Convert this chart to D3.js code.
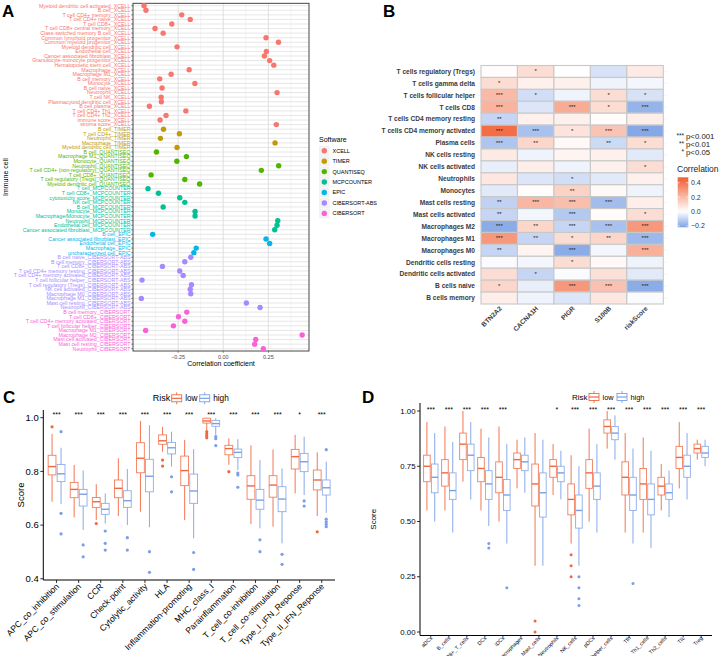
<!DOCTYPE html>
<html><head><meta charset="utf-8">
<script src="https://cdn.jsdelivr.net/npm/d3@7"></script>
<style>body{margin:0;background:#fff;} svg{display:block;font-family:"Liberation Sans",Arial,sans-serif;}</style>
</head><body>
<svg id="chart" width="719" height="656"></svg>
<script>
// ---------------- Panel A data ----------------
const aSoftwareLevels = ["XCELL","TIMER","QUANTISEQ","MCPCOUNTER","EPIC","CIBERSORT-ABS","CIBERSORT"];
const aSoftwareColors = ["#F8766D","#C49A00","#53B400","#00C094","#00B6EB","#A58AFF","#FB61D7"];
const aCells = [
"Myeloid dendritic cell activated_XCELL","B cell_XCELL","T cell CD4+ memory_XCELL","T cell CD4+ naive_XCELL","T cell CD8+_XCELL",
"T cell CD8+ central memory_XCELL","Class-switched memory B cell_XCELL","Common lymphoid progenitor_XCELL","Common myeloid progenitor_XCELL",
"Myeloid dendritic cell_XCELL","Endothelial cell_XCELL","Cancer associated fibroblast_XCELL","Granulocyte-monocyte progenitor_XCELL",
"Hematopoietic stem cell_XCELL","Macrophage_XCELL","Macrophage M1_XCELL","B cell memory_XCELL","Monocyte_XCELL","B cell naive_XCELL",
"Neutrophil_XCELL","T cell NK_XCELL","Plasmacytoid dendritic cell_XCELL","B cell plasma_XCELL","T cell CD4+ Th1_XCELL","T cell CD4+ Th2_XCELL",
"immune score_XCELL","stroma score_XCELL",
"B cell_TIMER","T cell CD4+_TIMER","Neutrophil_TIMER","Macrophage_TIMER","Myeloid dendritic cell_TIMER",
"B cell_QUANTISEQ","Macrophage M1_QUANTISEQ","Monocyte_QUANTISEQ","Neutrophil_QUANTISEQ","T cell CD4+ (non-regulatory)_QUANTISEQ",
"T cell CD8+_QUANTISEQ","T cell regulatory (Tregs)_QUANTISEQ","Myeloid dendritic cell_QUANTISEQ",
"T cell_MCPCOUNTER","T cell CD8+_MCPCOUNTER","cytotoxicity score_MCPCOUNTER","NK cell_MCPCOUNTER","B cell_MCPCOUNTER","Monocyte_MCPCOUNTER",
"Macrophage/Monocyte_MCPCOUNTER","Neutrophil_MCPCOUNTER","Endothelial cell_MCPCOUNTER","Cancer associated fibroblast_MCPCOUNTER",
"B cell_EPIC","Cancer associated fibroblast_EPIC","Endothelial cell_EPIC","Macrophage_EPIC","uncharacterized cell_EPIC",
"B cell naive_CIBERSORT-ABS","B cell memory_CIBERSORT-ABS","T cell CD8+_CIBERSORT-ABS","T cell CD4+ memory resting_CIBERSORT-ABS",
"T cell CD4+ memory activated_CIBERSORT-ABS","T cell follicular helper_CIBERSORT-ABS","T cell regulatory (Tregs)_CIBERSORT-ABS",
"NK cell activated_CIBERSORT-ABS","Macrophage M0_CIBERSORT-ABS","Macrophage M1_CIBERSORT-ABS","Mast cell resting_CIBERSORT-ABS","Neutrophil_CIBERSORT-ABS",
"B cell memory_CIBERSORT","T cell CD8+_CIBERSORT","T cell CD4+ memory activated_CIBERSORT","T cell follicular helper_CIBERSORT",
"Macrophage M1_CIBERSORT","Macrophage M2_CIBERSORT","Mast cell activated_CIBERSORT","Mast cell resting_CIBERSORT","Neutrophil_CIBERSORT"];
const aValues = [
-0.439,-0.428,-0.230,-0.183,-0.285,-0.378,-0.333,0.237,0.306,-0.256,0.239,0.228,0.257,0.280,-0.189,-0.289,-0.352,-0.157,-0.339,0.298,
-0.344,-0.343,-0.409,-0.207,-0.317,-0.350,0.294,
-0.331,-0.243,-0.348,0.287,-0.256,
-0.370,-0.204,-0.257,0.307,0.211,-0.400,-0.213,-0.131,
-0.417,-0.359,-0.241,-0.213,-0.333,-0.156,-0.156,0.302,0.298,0.285,
-0.391,0.237,0.257,-0.150,-0.163,
-0.180,-0.213,-0.337,-0.241,-0.222,-0.450,-0.176,-0.183,-0.180,-0.454,0.128,0.204,
-0.202,-0.248,-0.213,-0.276,-0.430,0.437,0.180,0.174,0.222];
const aTicks = [-0.25, 0, 0.25];

// ---------------- Panel B data ----------------
const bRows = ["T cells regulatory (Tregs)","T cells gamma delta","T cells follicular helper","T cells CD8","T cells CD4 memory resting",
"T cells CD4 memory activated","Plasma cells","NK cells resting","NK cells activated","Neutrophils","Monocytes","Mast cells resting",
"Mast cells activated","Macrophages M2","Macrophages M1","Macrophages M0","Dendritic cells resting","Dendritic cells activated",
"B cells naive","B cells memory"];
const bGenes = ["BTN2A2","CACNA1H","PIGR","S100B","riskScore"];
const bCorr = [
[0.01,0.10,0.00,-0.07,0.06],[0.10,0.04,0.04,-0.03,-0.02],[0.20,-0.08,-0.03,0.10,-0.07],[0.22,-0.06,0.24,0.10,-0.18],
[-0.10,0.04,0.04,0.01,0.05],[0.42,-0.15,0.08,0.17,-0.21],[-0.14,0.12,0.02,-0.09,0.10],[0.06,-0.03,0.03,0.04,-0.05],
[-0.04,0.05,-0.03,0.04,0.10],[0.07,-0.06,-0.08,-0.05,0.04],[-0.05,0.01,0.13,0.02,-0.03],[-0.11,0.21,0.19,-0.16,0.05],
[-0.10,-0.02,-0.13,0.01,0.10],[-0.20,0.12,-0.10,-0.15,0.30],[0.30,-0.10,0.10,0.12,-0.17],[-0.10,0.03,-0.20,-0.02,0.23],
[-0.01,-0.02,0.10,0.02,-0.03],[0.10,-0.10,-0.01,0.09,-0.05],[0.12,-0.04,0.30,0.18,-0.20],[0.05,-0.03,-0.06,0.07,-0.01]];
const bStars = [
["","*","","",""],["*","","","",""],["***","*","","*","*"],["***","","***","*","***"],["**","","","",""],
["***","***","*","***","***"],["***","**","","**","*"],["","","","",""],["","","","","*"],["","","*","",""],
["","","**","",""],["**","***","***","***",""],["**","","***","","*"],["***","**","***","***","***"],["***","**","*","**","***"],
["**","","***","","***"],["","","*","",""],["","*","","",""],["*","","***","***","***"],["","","","",""]];
const bLegendTicks = [0.4, 0.2, 0.0, -0.2];
const bSigMarks = ["***","**","*"];
const bSigTexts = ["p<0.001","p<0.01","p<0.05"];

// ---------------- Panel C data ----------------
const cCats = ["APC_co_inhibition","APC_co_stimulation","CCR","Check-point","Cytolytic_activity","HLA","Inflammation-promoting",
"MHC_class_I","Parainflammation","T_cell_co-inhibition","T_cell_co-stimulation","Type_I_IFN_Reponse","Type_II_IFN_Reponse"];
const cLow = [[0.687,0.787,0.818,0.860,0.939],[0.629,0.702,0.733,0.759,0.824],[0.619,0.666,0.687,0.703,0.752],[0.634,0.702,0.737,0.768,0.849],
[0.650,0.795,0.849,0.907,0.988],[0.873,0.901,0.914,0.936,0.966],[0.619,0.747,0.803,0.857,0.917],[0.954,0.980,0.988,0.998,1.0],
[0.825,0.862,0.885,0.897,0.923],[0.604,0.696,0.746,0.784,0.897],[0.594,0.704,0.749,0.784,0.882],[0.718,0.809,0.855,0.882,0.936],
[0.634,0.731,0.768,0.805,0.871]];
const cHigh = [[0.679,0.762,0.791,0.826,0.888],[0.582,0.671,0.715,0.733,0.803],[0.606,0.640,0.659,0.681,0.718],[0.600,0.666,0.691,0.728,0.809],
[0.592,0.724,0.782,0.845,0.972],[0.818,0.865,0.888,0.908,0.948],[0.551,0.681,0.727,0.790,0.883],[0.936,0.968,0.978,0.990,0.998],
[0.805,0.852,0.871,0.883,0.920],[0.588,0.659,0.693,0.733,0.842],[0.532,0.650,0.697,0.743,0.811],[0.712,0.799,0.836,0.867,0.929],
[0.646,0.712,0.739,0.768,0.836]];
const cLowOut = [[0.966],[],[0.606],[],[],[0.842,0.820],[],[0.948,0.940,0.932,0.925],[0.799],[],[],[],[0.575]];
const cHighOut = [[0.948,0.644,0.567],[0.526,0.482],[0.578,0.532,0.507],[0.553,0.507],[0.501,0.424],[0.780,0.724],[0.498,0.435],
[0.930,0.922,0.896],[0.794,0.787,0.741],[0.545,0.501],[0.491,0.454],[0.690,0.671],[0.881,0.622,0.612,0.603,0.594]];
const cSig = ["***","***","***","***","***","***","***","***","***","***","***","*","***"];
const cTicks = [0.4, 0.6, 0.8, 1.0];

// ---------------- Panel D data ----------------
const dCats = ["aDCs","B_cells","CD8+_T_cells","DCs","iDCs","Macrophages","Mast_cells","Neutrophils","NK_cells","pDCs",
"T_helper_cells","Tfh","Th1_cells","Th2_cells","TIL","Treg"];
const dLow = [[0.55,0.68,0.75,0.80,0.95],[0.55,0.66,0.72,0.78,0.93],[0.68,0.78,0.85,0.90,1.0],[0.55,0.68,0.74,0.79,0.92],
[0.50,0.63,0.70,0.77,0.93],[0.65,0.74,0.78,0.81,0.87],[0.30,0.57,0.67,0.76,0.90],[0.62,0.70,0.75,0.78,0.85],
[0.40,0.53,0.60,0.67,0.80],[0.50,0.65,0.72,0.78,0.92],[0.83,0.90,0.93,0.96,1.0],[0.45,0.62,0.70,0.77,0.90],
[0.45,0.60,0.67,0.74,0.88],[0.55,0.62,0.66,0.70,0.76],[0.65,0.74,0.79,0.84,0.95],[0.78,0.81,0.83,0.85,0.87]];
const dHigh = [[0.50,0.63,0.70,0.76,0.90],[0.45,0.60,0.64,0.72,0.86],[0.60,0.73,0.80,0.85,0.95],[0.48,0.60,0.67,0.73,0.88],
[0.40,0.55,0.62,0.69,0.85],[0.63,0.73,0.77,0.80,0.88],[0.30,0.52,0.63,0.72,0.87],[0.60,0.68,0.72,0.75,0.82],
[0.30,0.47,0.55,0.62,0.75],[0.45,0.60,0.66,0.72,0.85],[0.78,0.87,0.90,0.93,0.98],[0.40,0.55,0.62,0.70,0.83],
[0.38,0.53,0.60,0.67,0.82],[0.52,0.60,0.63,0.67,0.73],[0.60,0.70,0.75,0.80,0.90],[0.75,0.79,0.81,0.84,0.87]];
const dLowOut = [[],[],[],[],[],[],[0.05,0.0],[],[0.35,0.30,0.25],[],[],[],[],[],[],[]];
const dHighOut = [[],[],[],[0.40,0.38],[0.20],[],[],[],[0.25,0.20,0.15,0.12],[],[],[0.22],[],[],[],[]];
const dSig = ["***","***","***","***","***","","","*","***","***","***","***","***","***","***","***"];
const dTicks = [0, 0.25, 0.5, 0.75, 1.0];

const riskGroups = ["low","high"];
const riskColors = ["#F0683F","#7A9FE6"];

// ================= Drawing =================
const svg = d3.select("#chart");

[["A",2,17],["B",383,17],["C",3,403],["D",362,403]].forEach(([t,x,y])=>{
  svg.append("text").attr("x",x).attr("y",y).attr("font-size",17).attr("font-weight","bold").attr("fill","#000").text(t);
});

// ---------- Panel A ----------
(function(){
  const g = svg.append("g");
  const L=133,R=309,T=3.3,B=351;
  const x = d3.scaleLinear().domain([-0.5,0.475]).range([L,R]);
  const y = d3.scalePoint().domain(aCells).range([5.7,348.7]);
  const softOf = s => s.substring(s.lastIndexOf("_")+1);
  const col = d3.scaleOrdinal().domain(aSoftwareLevels).range(aSoftwareColors);
  g.append("rect").attr("x",L).attr("y",T).attr("width",R-L).attr("height",B-T).attr("fill","#fff");
  [-0.375,-0.125,0.125,0.375].forEach(v=>g.append("line").attr("x1",x(v)).attr("x2",x(v)).attr("y1",T).attr("y2",B).attr("stroke","#ededed").attr("stroke-width",0.6));
  aTicks.forEach(v=>g.append("line").attr("x1",x(v)).attr("x2",x(v)).attr("y1",T).attr("y2",B).attr("stroke","#dcdcdc").attr("stroke-width",0.9));
  aCells.forEach(c=>g.append("line").attr("x1",L).attr("x2",R).attr("y1",y(c)).attr("y2",y(c)).attr("stroke","#dcdcdc").attr("stroke-width",0.7));
  g.append("rect").attr("x",L).attr("y",T).attr("width",R-L).attr("height",B-T).attr("fill","none").attr("stroke","#333").attr("stroke-width",0.9);
  aCells.forEach(c=>{
    g.append("line").attr("x1",L-2).attr("x2",L).attr("y1",y(c)).attr("y2",y(c)).attr("stroke","#333").attr("stroke-width",0.5);
    g.append("text").attr("x",L-2.5).attr("y",y(c)).attr("dy","0.35em").attr("text-anchor","end").attr("font-size",5.3)
      .attr("fill",col(softOf(c))).text(c);
  });
  aTicks.forEach(v=>{
    g.append("line").attr("x1",x(v)).attr("x2",x(v)).attr("y1",B).attr("y2",B+2).attr("stroke","#333").attr("stroke-width",0.5);
    g.append("text").attr("x",x(v)).attr("y",B+7.5).attr("text-anchor","middle").attr("font-size",5.5).attr("fill","#4d4d4d").text(d3.format(".2f")(v));
  });
  g.append("text").attr("x",(L+R)/2).attr("y",366).attr("text-anchor","middle").attr("font-size",7).attr("fill","#000").text("Correlation coefficient");
  g.append("text").attr("transform",`translate(8,${(T+B)/2}) rotate(-90)`).attr("text-anchor","middle").attr("font-size",7).attr("fill","#000").text("Immune cell");
  g.selectAll("circle.pt").data(aCells).enter().append("circle").attr("class","pt")
    .attr("cx",(c,i)=>x(aValues[i])).attr("cy",c=>y(c)).attr("r",2.7).attr("fill",c=>col(softOf(c)));
  const lg = g.append("g");
  lg.append("text").attr("x",319).attr("y",141.5).attr("font-size",7).attr("fill","#000").text("Software");
  aSoftwareLevels.forEach((s,i)=>{
    const yy = 150.7 + i*10.45;
    lg.append("rect").attr("x",319).attr("y",yy-5).attr("width",10.5).attr("height",10).attr("fill","#f2f2f2");
    lg.append("circle").attr("cx",324.3).attr("cy",yy).attr("r",2.7).attr("fill",col(s));
    lg.append("text").attr("x",332.5).attr("y",yy).attr("dy","0.35em").attr("font-size",5.5).attr("fill","#000").text(s);
  });
})();

// ---------- Panel B ----------
(function(){
  const g = svg.append("g");
  const L=481,R=663.3,T=65.5,B=304;
  const x = d3.scaleBand().domain(bGenes).range([L,R]);
  const y = d3.scaleBand().domain(bRows).range([T,B]);
  const color = d3.scaleLinear().domain([-0.25,0,0.45]).range(["#6F97E2","#FFFFFF","#F2643A"]).clamp(true);
  bRows.forEach(r=>g.append("line").attr("x1",L-3).attr("x2",R+4).attr("y1",y(r)+y.bandwidth()/2).attr("y2",y(r)+y.bandwidth()/2).attr("stroke","#ececec").attr("stroke-width",0.6));
  bRows.forEach((r,i)=>{
    bGenes.forEach((gname,j)=>{
      g.append("rect").attr("x",x(gname)).attr("y",y(r)).attr("width",x.bandwidth()).attr("height",y.bandwidth())
        .attr("fill",color(bCorr[i][j])).attr("stroke","#c8c8c8").attr("stroke-width",1.1);
      if (bStars[i][j]) g.append("text").attr("x",x(gname)+x.bandwidth()/2).attr("y",y(r)+y.bandwidth()/2+1.8)
        .attr("text-anchor","middle").attr("font-size",6).attr("fill","#222").text(bStars[i][j]);
    });
    g.append("text").attr("x",L-6).attr("y",y(r)+y.bandwidth()/2).attr("dy","0.35em").attr("text-anchor","end")
      .attr("font-size",6.6).attr("font-weight","bold").attr("fill","#3a3a3a").text(r);
  });
  bGenes.forEach(gname=>{
    const cx = x(gname)+x.bandwidth()/2;
    g.append("text").attr("transform",`translate(${cx+3},${B+5}) rotate(-45)`).attr("text-anchor","end")
      .attr("font-size",6.6).attr("font-weight","bold").attr("fill","#3a3a3a").text(gname);
  });
  bSigMarks.forEach((m,i)=>{
    const yy = 136 + i*8.2;
    g.append("text").attr("x",684).attr("y",yy+1.5).attr("text-anchor","end").attr("font-size",6.5).attr("fill","#222").text(m);
    g.append("text").attr("x",686).attr("y",yy).attr("dy","0.35em").attr("font-size",7.8).attr("fill","#222").text(bSigTexts[i]);
  });
  g.append("text").attr("x",677).attr("y",172).attr("font-size",8.5).attr("fill","#222").text("Correlation");
  const ly = d3.scaleLinear().domain([-0.22,0.475]).range([227.3,177.3]);
  const defs = svg.append("defs");
  const grad = defs.append("linearGradient").attr("id","cbar").attr("x1","0").attr("x2","0").attr("y1","1").attr("y2","0");
  d3.range(0,1.0001,0.05).forEach(t=>{
    const v = -0.22 + t*(0.475+0.22);
    grad.append("stop").attr("offset",t).attr("stop-color",color(v));
  });
  g.append("rect").attr("x",677.7).attr("y",177.3).attr("width",10.6).attr("height",50).attr("fill","url(#cbar)");
  bLegendTicks.forEach(v=>{
    g.append("line").attr("x1",677.7).attr("x2",679.8).attr("y1",ly(v)).attr("y2",ly(v)).attr("stroke","#fff").attr("stroke-width",0.6);
    g.append("line").attr("x1",686.2).attr("x2",688.3).attr("y1",ly(v)).attr("y2",ly(v)).attr("stroke","#fff").attr("stroke-width",0.6);
    g.append("text").attr("x",691).attr("y",ly(v)).attr("dy","0.35em").attr("font-size",7).attr("fill","#333").text(v===0?"0.0":d3.format(".1f")(v).replace("-","\u2212"));
  });
})();

// ---------- Box plot helper ----------
function boxPanel(opt){
  const g = svg.append("g");
  const x = d3.scalePoint().domain(opt.cats).range([opt.L,opt.R]).padding(0.6);
  const y = d3.scaleLinear().domain(opt.ydom).range(opt.yrng);
  g.append("line").attr("x1",opt.L).attr("x2",opt.L).attr("y1",opt.T).attr("y2",opt.B).attr("stroke","#000").attr("stroke-width",1);
  g.append("line").attr("x1",opt.L).attr("x2",opt.R).attr("y1",opt.B).attr("y2",opt.B).attr("stroke","#000").attr("stroke-width",1);
  opt.ticks.forEach(v=>{
    g.append("line").attr("x1",opt.L-3).attr("x2",opt.L).attr("y1",y(v)).attr("y2",y(v)).attr("stroke","#000").attr("stroke-width",0.8);
    g.append("text").attr("x",opt.L-4.5).attr("y",y(v)).attr("dy","0.35em").attr("text-anchor","end").attr("font-size",opt.tickFont).attr("fill","#000").text(opt.fmt(v));
  });
  opt.cats.forEach((c,i)=>{
    const cx = x(c);
    g.append("line").attr("x1",cx).attr("x2",cx).attr("y1",opt.B).attr("y2",opt.B+opt.tickLen).attr("stroke","#000").attr("stroke-width",0.8);
    g.append("text").attr("transform",`translate(${cx+opt.labDx},${opt.B+opt.labDy}) rotate(-45)`).attr("text-anchor","end")
      .attr("font-size",opt.labFont).attr("fill","#000").text(c);
    if (opt.sig[i]) g.append("text").attr("x",cx).attr("y",opt.sigY).attr("text-anchor","middle").attr("font-size",7).attr("fill","#000").text(opt.sig[i]);
    [[opt.low,opt.lowOut,-1],[opt.high,opt.highOut,1]].forEach(([stats,outs,s],k)=>{
      const bx = cx + s*opt.off, w = opt.bw, colr = riskColors[k];
      const st = stats[i];
      g.append("line").attr("x1",bx).attr("x2",bx).attr("y1",y(st[0])).attr("y2",y(st[1])).attr("stroke",colr).attr("stroke-width",0.9);
      g.append("line").attr("x1",bx).attr("x2",bx).attr("y1",y(st[3])).attr("y2",y(st[4])).attr("stroke",colr).attr("stroke-width",0.9);
      g.append("rect").attr("x",bx-w/2).attr("y",y(st[3])).attr("width",w).attr("height",y(st[1])-y(st[3]))
        .attr("fill","#fff").attr("stroke",colr).attr("stroke-width",0.9).attr("stroke-opacity",0.85);
      g.append("line").attr("x1",bx-w/2).attr("x2",bx+w/2).attr("y1",y(st[2])).attr("y2",y(st[2])).attr("stroke",colr).attr("stroke-width",1.4);
      outs[i].forEach(v=>g.append("circle").attr("cx",bx).attr("cy",y(v)).attr("r",opt.pr).attr("fill",colr));
    });
  });
  g.append("text").attr("transform",`translate(${opt.titleX},${(opt.T+opt.B)/2}) rotate(-90)`).attr("text-anchor","middle")
    .attr("font-size",opt.titleFont).attr("fill","#000").text("Score");
  const lx = opt.legX, ly = opt.legY;
  g.append("text").attr("x",lx).attr("y",ly).attr("dy","0.35em").attr("font-size",opt.legFont).attr("fill","#000").text("Risk");
  riskGroups.forEach((r,k)=>{
    const kx = lx + opt.legKey[k];
    g.append("line").attr("x1",kx+5).attr("x2",kx+5).attr("y1",ly-6).attr("y2",ly+6).attr("stroke",riskColors[k]).attr("stroke-width",0.9);
    g.append("rect").attr("x",kx).attr("y",ly-3.5).attr("width",10).attr("height",7).attr("fill","#fff").attr("stroke",riskColors[k]).attr("stroke-width",0.9);
    g.append("line").attr("x1",kx).attr("x2",kx+10).attr("y1",ly).attr("y2",ly).attr("stroke",riskColors[k]).attr("stroke-width",1.2);
    g.append("text").attr("x",kx+13.5).attr("y",ly).attr("dy","0.35em").attr("font-size",opt.legFont*0.92).attr("fill","#000").text(r);
  });
}

boxPanel({cats:cCats,low:cLow,high:cHigh,lowOut:cLowOut,highOut:cHighOut,sig:cSig,ticks:cTicks,
  L:43.3,R:335,T:410,B:580,ydom:[0.4,1.0],yrng:[578.8,417.7],off:4.5,bw:7.8,fmt:d3.format(".1f"),pr:1.6,tickLen:3,
  tickFont:9.5,labFont:8.6,labDx:3,labDy:7,titleX:24,titleFont:9.5,sigY:416.5,legX:152.7,legY:398.3,legKey:[19,47],legFont:9});

boxPanel({cats:dCats,low:dLow,high:dHigh,lowOut:dLowOut,highOut:dHighOut,sig:dSig,ticks:dTicks,
  L:420,R:712,T:403,B:635.5,ydom:[0,1.0],yrng:[632,411],off:3.9,bw:6.6,fmt:d3.format(".2f"),pr:1.5,tickLen:2,
  tickFont:7.8,labFont:5.3,labDx:2,labDy:3,titleX:376,titleFont:8,sigY:411.5,legX:572,legY:397,legKey:[17,45],legFont:8});
</script>
</body></html>
